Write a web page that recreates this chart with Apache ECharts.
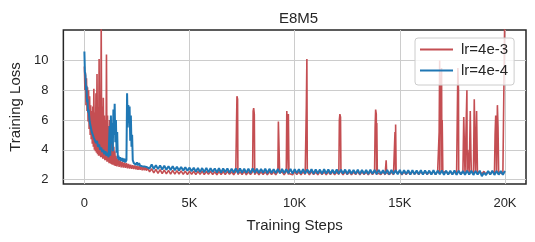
<!DOCTYPE html>
<html>
<head>
<meta charset="utf-8">
<script src="https://cdn.jsdelivr.net/npm/echarts@6/dist/echarts.min.js"></script>
<style>html,body{margin:0;padding:0;background:#fff;}#c{width:535px;height:242px;}</style>
</head>
<body>
<div id="c"></div>
<script>
// ---- data ----
const title = 'E8M5';
const seriesNames = ['lr=4e-3', 'lr=4e-4'];
const xTicks = [0, 5000, 10000, 15000, 20000];
const xTickLabels = ['0', '5K', '10K', '15K', '20K'];
const yTicks = [2, 4, 6, 8, 10];

// early training (step, loss)
const redEarly = [[0,9.6],[25,8.0],[50,9.2],[75,7.0],[100,8.8],[125,6.6],[150,8.2],[175,5.9],[200,8.0],[225,5.4],[250,7.6],[275,5.0],[300,7.0],[325,4.7],[350,6.6],[375,4.4],[400,6.9],[425,4.2],[450,8.1],[475,4.0],[500,6.5],[525,3.9],[550,7.8],[575,3.8],[600,9.1],[625,3.7],[650,6.8],[675,3.6],[700,10.1],[725,3.6],[750,7.2],[775,3.5],[800,12.5],[825,3.5],[850,6.9],[875,3.4],[900,7.5],[925,3.4],[950,6.3],[975,3.3],[1000,6.0],[1025,3.3],[1050,10.4],[1075,3.2],[1100,6.3],[1125,3.2],[1150,5.6],[1175,3.1],[1200,6.0],[1225,3.1],[1250,5.2],[1275,3.05],[1300,5.8],[1325,3.0],[1350,4.6],[1375,3.0],[1400,4.2],[1425,2.95],[1450,3.9],[1475,2.92],[1500,3.6],[1550,2.88],[1600,3.4],[1650,2.85],[1700,3.3],[1750,2.82],[1800,3.2],[1850,2.8],[1900,3.15],[1950,2.78],[2000,3.1],[2050,2.76],[2100,3.05],[2150,2.74],[2200,3.0],[2250,2.72],[2300,2.97],[2350,2.7],[2400,2.95],[2450,2.68],[2500,2.92],[2550,2.66],[2600,2.9],[2650,2.65],[2700,2.88],[2750,2.63],[2800,2.86],[2850,2.62],[2900,2.84],[2950,2.6]];
const blueEarly = [[0,10.6],[25,9.2],[50,9.0],[75,8.0],[100,8.3],[125,7.2],[150,7.4],[175,6.5],[200,6.7],[250,5.9],[300,5.8],[350,5.2],[400,5.3],[450,4.8],[500,4.9],[550,4.45],[600,4.6],[650,4.2],[700,4.35],[750,4.0],[800,4.15],[850,3.85],[900,4.0],[950,3.7],[1000,3.9],[1050,3.6],[1100,3.8],[1150,3.5],[1200,5.6],[1230,3.6],[1260,6.3],[1290,4.4],[1320,5.8],[1350,3.9],[1380,6.7],[1410,5.0],[1440,7.1],[1470,4.5],[1500,6.0],[1530,3.8],[1560,5.2],[1590,3.4],[1620,3.6],[1650,3.3],[1700,3.5],[1750,3.25],[1800,3.45],[1850,3.2],[1900,3.4],[1950,3.15],[2000,3.3],[2030,7.8],[2060,5.5],[2090,7.0],[2120,5.8],[2150,6.9],[2180,4.6],[2210,6.3],[2240,4.2],[2270,5.0],[2300,3.3],[2350,3.1],[2400,3.2],[2450,3.0],[2500,3.15],[2550,2.95],[2600,3.1],[2650,2.93],[2700,3.05],[2750,2.9],[2800,3.0],[2850,2.88],[2900,2.98],[2950,2.85]];

// later training: one value every 100 steps from step 3000 to 20000
const lateStart = 3000, lateStep = 100;
const redLate = [2.8,2.52,2.72,2.45,2.68,2.42,2.66,2.4,2.64,2.38,2.62,2.37,2.61,2.36,2.6,2.37,2.58,2.35,2.57,2.34,2.56,
2.36,2.56,2.34,2.55,2.35,2.56,2.33,2.54,2.35,2.55,2.34,2.53,2.32,2.55,2.34,2.54,2.33,2.55,2.35,2.53,2.32,2.54,2.34,2.53,2.33,2.55,2.32,2.53,2.34,2.52,2.33,2.54,2.32,2.53,2.34,2.52,2.31,2.54,2.33,2.52,2.32,2.53,2.34,2.52,2.31,2.53,2.33,2.52,2.32,2.53,
2.33,2.52,2.31,2.53,2.34,2.52,2.32,2.53,2.33,2.51,2.32,2.53,2.34,2.52,2.31,2.52,2.33,2.53,2.32,2.51,2.34,2.52,2.31,2.53,2.33,2.52,2.32,2.51,2.33,2.53,2.31,2.52,2.34,2.51,2.32,2.53,2.33,2.52,2.31,2.51,2.33,2.53,2.32,2.52,2.34,2.51,2.32,2.53,2.33,2.52,
2.32,2.53,2.34,2.52,2.33,2.54,2.35,2.52,2.33,2.53,2.36,2.54,2.34,2.52,2.35,2.55,2.33,2.53,2.36,2.54,2.34,2.55,2.35,2.53,2.36,2.54,2.34,2.55,2.36,2.53,2.35,2.56,2.34,2.54,2.36,2.55,2.35,2.54,2.37,2.55,2.36,2.54,2.35,2.56,2.37,2.55,2.36,2.54,2.37,2.55];
const blueLate = [2.96,2.74,3.02,2.71,2.97,2.70,2.95,2.68,2.92,2.66,2.90,2.64,2.89,2.63,2.86,2.61,2.85,2.60,2.83,2.59,2.80,
2.56,2.79,2.52,2.78,2.50,2.77,2.49,2.78,2.48,2.76,2.50,2.75,2.47,2.76,2.46,2.74,2.49,2.75,2.45,2.73,2.47,2.74,2.44,2.75,2.46,2.72,2.45,2.73,2.43,2.74,2.46,2.72,2.44,2.71,2.45,2.73,2.42,2.72,2.44,2.70,2.43,2.72,2.41,2.71,2.44,2.70,2.42,2.71,2.40,2.70,
2.43,2.69,2.41,2.70,2.40,2.68,2.42,2.69,2.39,2.68,2.41,2.67,2.38,2.69,2.40,2.67,2.39,2.66,2.41,2.68,2.38,2.66,2.40,2.67,2.37,2.66,2.39,2.65,2.38,2.67,2.36,2.65,2.39,2.64,2.37,2.66,2.38,2.64,2.36,2.65,2.38,2.63,2.37,2.65,2.35,2.64,2.37,2.63,2.36,2.64,
2.35,2.63,2.37,2.62,2.34,2.63,2.36,2.61,2.35,2.62,2.33,2.61,2.36,2.60,2.34,2.62,2.33,2.60,2.35,2.61,2.32,2.60,2.34,2.59,2.33,2.61,2.31,2.60,2.34,2.58,2.32,2.60,2.33,2.59,2.31,2.58,2.33,2.60,2.22,2.45,2.31,2.58,2.33,2.59,2.31,2.58,2.33,2.57,2.32,2.58];

// loss spikes of lr=4e-3 (step, loss)
const redSpikes = [[7230,5.4],[7255,7.6],[7285,7.4],[7310,2.4],
[8025,6.6],[8050,6.8],[8080,6.4],[8110,2.45],
[9225,5.9],[9255,6.0],[9285,2.45],
[9625,6.6],[9660,6.5],[9700,6.4],[9730,2.4],
[10555,7.0],[10580,10.1],[10605,2.45],
[12125,6.0],[12150,6.4],[12180,6.2],[12210,2.4],
[13825,5.5],[13850,6.7],[13880,6.4],[13905,5.8],[13930,2.45],
[14350,3.3],[14375,2.45],
[14770,5.2],[14800,5.7],[14825,2.45],
[16870,5.2],[16895,10.0],[16925,6.3],[16955,7.8],[16985,9.5],[17015,6.0],[17045,2.45],
[17735,6.5],[17760,9.5],[17790,8.0],[17815,2.5],
[18040,6.2],[18080,3.6],[18190,8.0],[18230,4.0],[18350,6.6],[18380,3.8],[18540,7.4],[18580,3.5],[18650,6.6],[18690,2.5],
[19530,5.0],[19560,6.3],[19590,4.5],[19640,7.0],[19670,5.5],[19710,2.5],
[19985,12.5]];

// ---- build ----
function build(early, late, spikes) {
  const pts = early.slice();
  late.forEach((v, i) => pts.push([lateStart + i * lateStep, v]));
  (spikes || []).forEach(p => pts.push(p));
  pts.sort((a, b) => a[0] - b[0]);
  return pts;
}
const redData = build(redEarly, redLate.slice(0, redLate.length - 1), redSpikes);
const blueData = build(blueEarly, blueLate, null);

const FONT = '"Liberation Sans", Arial, sans-serif';
const chart = echarts.init(document.getElementById('c'), null, {renderer: 'canvas'});
chart.setOption({
  animation: false,
  backgroundColor: '#ffffff',
  title: {
    text: title, left: 293.5, top: 6, textAlign: 'center',
    textStyle: {fontFamily: FONT, fontSize: 15, fontWeight: 'normal', color: '#262626'}
  },
  grid: {left: 61, top: 30, width: 465, height: 154, show: true, borderColor: '#262626', borderWidth: 1.5, backgroundColor: 'transparent'},
  legend: {
    orient: 'vertical', left: 415, top: 38,
    data: seriesNames.map(n => ({name: n})),
    icon: 'rect', itemWidth: 33, itemHeight: 2, itemGap: 4,
    padding: [3, 6, 6, 5],
    backgroundColor: 'rgba(255,255,255,0.8)', borderColor: '#cccccc', borderWidth: 1, borderRadius: 3,
    textStyle: {fontFamily: FONT, fontSize: 15, color: '#262626', lineHeight: 17, padding: [0, 0, 0, 3]}
  },
  xAxis: {
    type: 'value', min: -1000, max: 21000,
    name: 'Training Steps', nameLocation: 'middle', nameGap: 34,
    nameTextStyle: {fontFamily: FONT, fontSize: 15, color: '#262626'},
    axisLine: {show: false}, axisTick: {show: false, customValues: xTicks},
    axisLabel: {customValues: xTicks, margin: 13, fontFamily: FONT, fontSize: 13, color: '#262626',
      formatter: v => xTickLabels[xTicks.indexOf(v)]},
    splitLine: {show: true, lineStyle: {color: '#cccccc', width: 1}}
  },
  yAxis: {
    type: 'value', min: 1.7, max: 12.05,
    name: 'Training Loss', nameLocation: 'middle', nameGap: 38, nameRotate: 90,
    nameTextStyle: {fontFamily: FONT, fontSize: 15, color: '#262626'},
    axisLine: {show: false}, axisTick: {show: false, customValues: yTicks},
    axisLabel: {customValues: yTicks, margin: 15, fontFamily: FONT, fontSize: 13, color: '#262626'},
    splitLine: {show: true, lineStyle: {color: '#cccccc', width: 1}}
  },
  series: [
    {name: seriesNames[0], type: 'line', data: redData, showSymbol: false, symbol: 'none', sampling: null,
      lineStyle: {color: '#c44e52', width: 1.6}, itemStyle: {color: '#c44e52'}, clip: true, z: 2},
    {name: seriesNames[1], type: 'line', data: blueData, showSymbol: false, symbol: 'none', sampling: null,
      lineStyle: {color: '#1f77b4', width: 2}, itemStyle: {color: '#1f77b4'}, clip: true, z: 3}
  ]
});
</script>
</body>
</html>
